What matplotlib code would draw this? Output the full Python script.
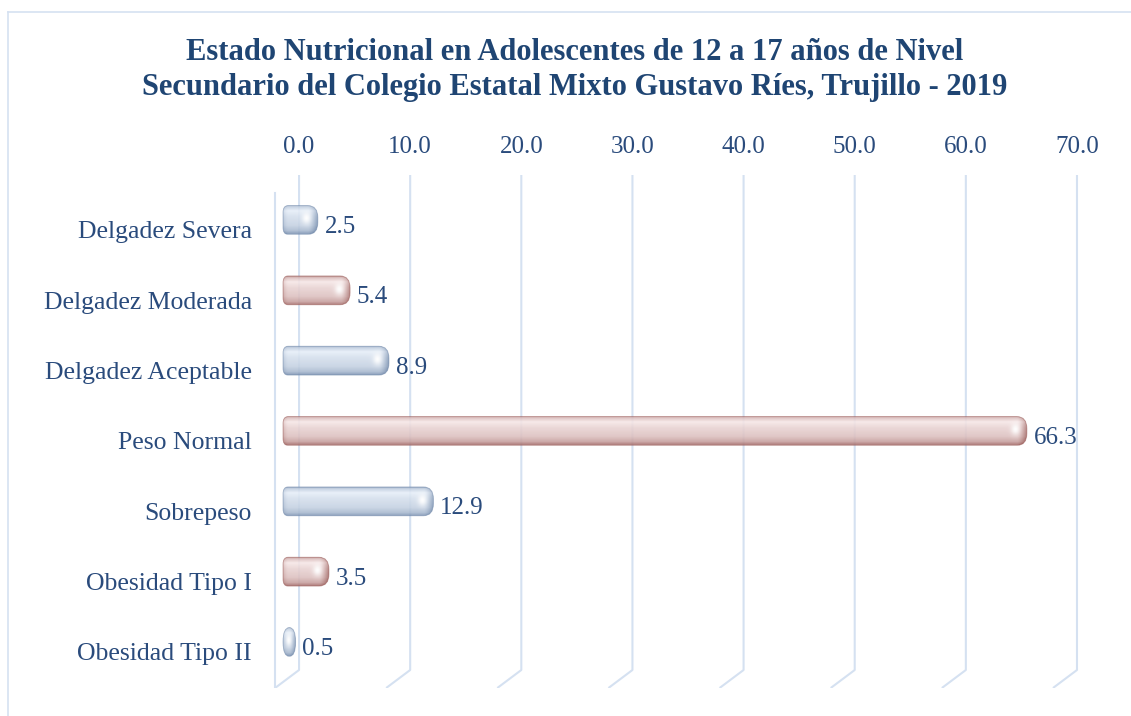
import numpy as np
import matplotlib.pyplot as plt
from matplotlib.patches import PathPatch
from matplotlib.path import Path
from matplotlib.lines import Line2D
from matplotlib.colors import to_rgb

# datos
categorias = ['Delgadez Severa', 'Delgadez Moderada', 'Delgadez Aceptable',
              'Peso Normal', 'Sobrepeso', 'Obesidad Tipo I', 'Obesidad Tipo II']
porcentajes = [2.5, 5.4, 8.9, 66.3, 12.9, 3.5, 0.5]
ticks_x = [0, 10, 20, 30, 40, 50, 60, 70]
titulo = ('Estado Nutricional en Adolescentes de 12 a 17 años de Nivel\n'
          'Secundario del Colegio Estatal Mixto Gustavo Ríes, Trujillo - 2019')

plt.rcParams['font.family'] = ['Liberation Serif', 'DejaVu Serif']
texto = '#2A4B7C'
rejilla = '#D5E1F1'
colores = [(to_rgb('#E6EEF8'), to_rgb('#6A83A6')),   # azul
           (to_rgb('#F6E7E7'), to_rgb('#975754'))]   # rojo

W, H = 1131, 716
fig = plt.figure(figsize=(W / 100, H / 100), dpi=100)
ax = fig.add_axes([265.7 / W, 1 - 688 / H, (1088.1 - 265.7) / W, (688 - 175) / H])
xmin, xmax = -3, 71
ymin, ymax = 6.512, -0.782
px_x = (1088.1 - 265.7) / (xmax - xmin)
px_y = (688 - 175) / (ymin - ymax)

# profundidad 3D
dx, dy = 24 / px_x, 18 / px_y
y_fondo = ymin - dy

# rejilla en perspectiva
for v in ticks_x:
    ax.plot([v, v, v - dx], [ymax, y_fondo, ymin], color=rejilla, lw=1.5,
            zorder=1, solid_capstyle='butt')
ax.plot([-dx, -dx], [-0.526, ymin], color=rejilla, lw=1.5, zorder=1)


def contorno(x0, x1, ya, yb, rlx, rly, rrx, rry):
    verts = [(x0 + rlx, ya), (x1 - rrx, ya), (x1, ya), (x1, ya + rry),
             (x1, yb - rry), (x1, yb), (x1 - rrx, yb), (x0 + rlx, yb),
             (x0, yb), (x0, yb - rly), (x0, ya + rly), (x0, ya),
             (x0 + rlx, ya), (x0 + rlx, ya)]
    codes = [Path.MOVETO, Path.LINETO, Path.CURVE3, Path.CURVE3,
             Path.LINETO, Path.CURVE3, Path.CURVE3, Path.LINETO,
             Path.CURVE3, Path.CURVE3, Path.LINETO, Path.CURVE3, Path.CURVE3,
             Path.CLOSEPOLY]
    return Path(verts, codes)


def imagen_barra(w, h, claro, oscuro, r):
    w = max(int(round(w)), 4)
    h = int(round(h))
    t = (np.arange(h) + 0.5) / h
    u = np.arange(w) + 0.5
    p = np.interp(t, [0, 0.06, 0.2, 0.4, 0.7, 0.88, 1],
                  [0.75, 0.3, 0.0, 0.14, 0.27, 0.5, 0.88])
    P = np.tile(p[:, None], (1, w))
    rim = np.clip(1 - (w - u) / r, 0, 1) ** 1.6
    lrim = np.clip(1 - u / 6, 0, 1) ** 2
    P = np.clip(P + 0.65 * rim[None, :] + 0.25 * lrim[None, :], 0, 1)
    img = np.array(claro) * (1 - P[..., None]) + np.array(oscuro) * P[..., None]
    hx, hy = w - r * 1.15, 0.45 * h
    g = np.exp(-((u[None, :] - hx) / (r * 0.45)) ** 2
               - ((np.arange(h)[:, None] + 0.5 - hy) / (h * 0.2)) ** 2)
    img = img * (1 - 0.95 * g[..., None]) + 0.95 * g[..., None]
    return np.clip(img, 0, 1)


alto = 0.41
for i, (cat, v) in enumerate(zip(categorias, porcentajes)):
    claro, oscuro = colores[i % 2]
    x0, x1 = -1.44, v - 0.81
    yc = i - 0.142
    ya, yb = yc - alto / 2, yc + alto / 2
    ancho = x1 - x0
    rrx, rry = 10 / px_x, 12 / px_y
    rlx, rly = 5 / px_x, 7 / px_y
    if rrx + rlx > ancho:
        rrx = rlx = ancho / 2
        rry = rly = alto / 2
    forma = contorno(x0, x1, ya, yb, rlx, rly, rrx, rry)
    borde = PathPatch(forma, facecolor='none', edgecolor=oscuro, lw=0.6,
                      alpha=0.55, zorder=3)
    ax.add_patch(borde)
    img = imagen_barra(ancho * px_x, alto * px_y, claro, oscuro, rrx * px_x)
    im = ax.imshow(img, extent=[x0, x1, yb, ya], aspect='auto', zorder=2,
                   interpolation='bilinear', alpha=0.88)
    im.set_clip_path(borde)
    ax.text(x1 + 0.6, yc + 0.1, f'{v:.1f}', va='center', ha='left',
            fontsize=18, color=texto, zorder=4)

ax.set_xlim(xmin, xmax)
ax.set_ylim(ymin, ymax)
ax.set_xticks(ticks_x)
ax.set_xticklabels([f'{t:.1f}' for t in ticks_x])
ax.set_yticks(range(len(categorias)))
ax.set_yticklabels(categorias)
ax.xaxis.tick_top()
ax.tick_params(axis='x', length=0, pad=12, labelsize=18, labelcolor=texto)
ax.tick_params(axis='y', length=0, pad=10, labelsize=18.5, labelcolor=texto)
for s in ax.spines.values():
    s.set_visible(False)

fig.text(575 / W, 1 - 70 / H, titulo, ha='center', va='center', fontsize=22,
         fontweight='bold', color='#1F4573', linespacing=1.25)

# marco
fig.add_artist(Line2D([8 / W, 8 / W], [0, 1 - 12 / H], color=rejilla, lw=1.2))
fig.add_artist(Line2D([8 / W, 1], [1 - 12 / H, 1 - 12 / H], color=rejilla, lw=1.2))

fig.savefig('out.png', dpi=100)
